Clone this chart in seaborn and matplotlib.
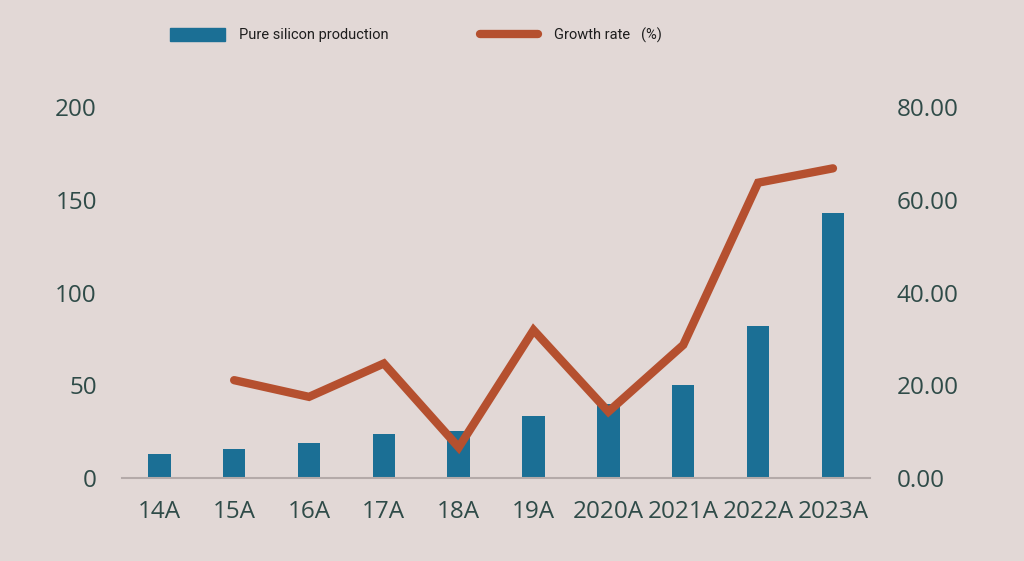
import numpy as np
import pandas as pd
import matplotlib
matplotlib.use("Agg")
import matplotlib.pyplot as plt
import seaborn as sns
from matplotlib.patches import Patch
from matplotlib.lines import Line2D

# ----------------------------------------
# Data
# ----------------------------------------
years = ["14A", "15A", "16A", "17A", "18A", "19A",
         "2020A", "2021A", "2022A", "2023A"]
production = [13, 15.8, 18.7, 23.7, 25.3, 33.4, 40, 50, 82.1, 142.7]
growth = [np.nan, 21.1, 17.5, 24.7, 6.6, 31.9, 14.3, 28.7, 63.7, 66.8]

bar_label = "Pure silicon production"
line_label = "Growth rate   (%)"

bg = "#e2d8d6"
bar_color = "#1b6f95"
line_color = "#b5502f"
tick_color = "#2f4b48"

df = pd.DataFrame({"year": years, "production": production, "growth": growth})
df["pos"] = range(len(df))

# ----------------------------------------
# Figure
# ----------------------------------------
sns.set_style("white")
plt.rcParams["font.family"] = ["Open Sans", "DejaVu Sans"]

fig = plt.figure(figsize=(10.24, 5.61), dpi=100, facecolor=bg)
ax = fig.add_axes([0.119, 0.148, 0.731, 0.661])
ax.set_facecolor(bg)

sns.barplot(data=df, x="year", y="production", color=bar_color,
            width=0.3, saturation=1, linewidth=0, ax=ax)

ax2 = ax.twinx()
sns.lineplot(data=df.dropna(), x="pos", y="growth", color=line_color,
             linewidth=6, ax=ax2, solid_capstyle="round",
             solid_joinstyle="miter")

ax.set_xlim(-0.5, len(years) - 0.5)
ax.set_ylim(0, 200)
ax2.set_ylim(0, 80)
ax.set_yticks([0, 50, 100, 150, 200])
ax2.set_yticks([0, 20, 40, 60, 80])
ax2.set_yticklabels([f"{v:.2f}" for v in [0, 20, 40, 60, 80]])

for a in (ax, ax2):
    a.set_xlabel("")
    a.set_ylabel("")
    for s in ["top", "left", "right", "bottom"]:
        a.spines[s].set_visible(False)
    a.tick_params(length=0, labelsize=17.5, labelcolor=tick_color)
ax.spines["bottom"].set_visible(True)
ax.spines["bottom"].set_color("#b4aaa9")
ax.spines["bottom"].set_linewidth(1.5)
ax.tick_params(axis="y", pad=18)
ax.tick_params(axis="x", pad=16)
ax2.tick_params(axis="y", pad=19)

# ----------------------------------------
# Legend
# ----------------------------------------
leg_font = {"family": ["Roboto", "DejaVu Sans"], "size": 10.5}
leg1 = fig.legend(handles=[Patch(color=bar_color, label=bar_label)],
                  loc="center left", bbox_to_anchor=(170 / 1024, 1 - 35 / 561),
                  frameon=False, prop=leg_font, borderpad=0, borderaxespad=0,
                  handlelength=3.8, handleheight=1.0, handletextpad=0.9)
leg2 = fig.legend(handles=[Line2D([0], [0], color=line_color, lw=6,
                                  solid_capstyle="round", label=line_label)],
                  loc="center left", bbox_to_anchor=(480 / 1024, 1 - 35 / 561),
                  frameon=False, prop=leg_font, borderpad=0, borderaxespad=0,
                  handlelength=4.0, handletextpad=1.1)
for leg in (leg1, leg2):
    for t in leg.get_texts():
        t.set_color("#1e1e1e")

fig.savefig("out.png", dpi=100, facecolor=bg)
